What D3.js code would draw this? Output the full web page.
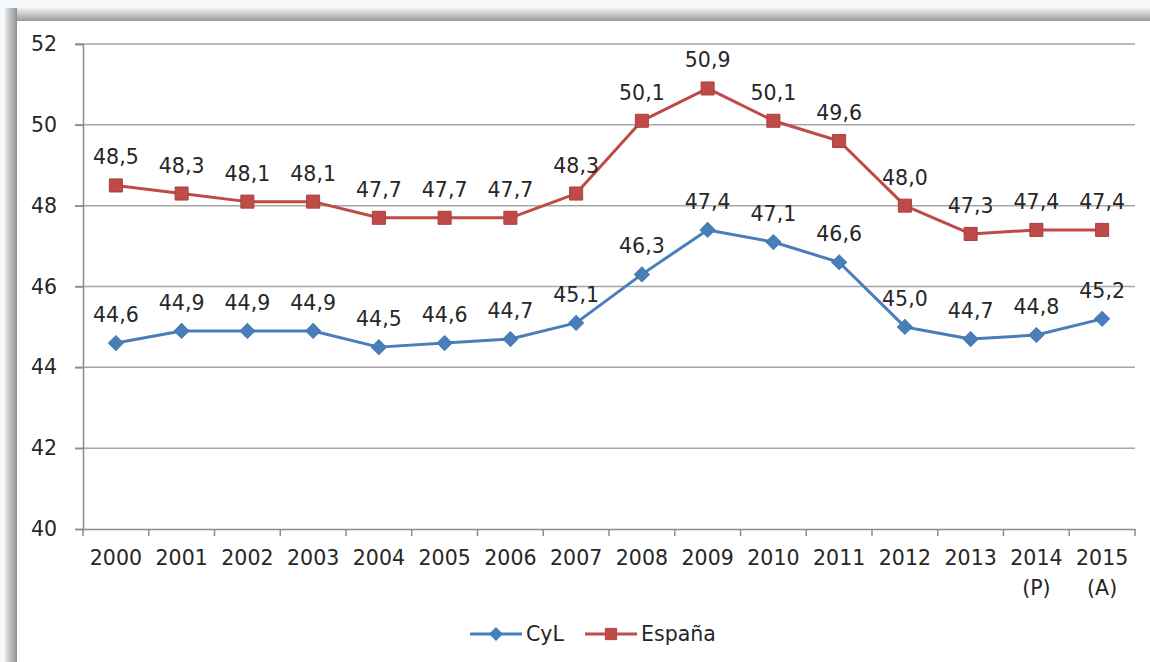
<!DOCTYPE html>
<html><head><meta charset="utf-8">
<script src="https://cdn.jsdelivr.net/npm/d3@7"></script>
<style>
html,body{margin:0;padding:0;background:#f6f9fb;}
svg{display:block;}
text{font-family:"DejaVu Sans",sans-serif;fill:#262626;}
</style></head>
<body>
<svg id="chart" width="1150" height="662"></svg>
<script>
const years = ["2000","2001","2002","2003","2004","2005","2006","2007","2008","2009","2010","2011","2012","2013","2014","2015"];
const yearNotes = ["","","","","","","","","","","","","","","(P)","(A)"];
const cylValues = [44.6,44.9,44.9,44.9,44.5,44.6,44.7,45.1,46.3,47.4,47.1,46.6,45.0,44.7,44.8,45.2];
const espValues = [48.5,48.3,48.1,48.1,47.7,47.7,47.7,48.3,50.1,50.9,50.1,49.6,48.0,47.3,47.4,47.4];
const yTicks = [40,42,44,46,48,50,52];
const seriesNames = ["CyL","España"];

const FS = 20.5;
const svg = d3.select("#chart");
const W = 1150, H = 662;

// frame / shadow
const defs = svg.append("defs");
const gTop = defs.append("linearGradient").attr("id","gTop").attr("x1",0).attr("y1",0).attr("x2",0).attr("y2",1);
gTop.append("stop").attr("offset","0%").attr("stop-color","#f2f2f2");
gTop.append("stop").attr("offset","100%").attr("stop-color","#9a9a9a");
const gLeft = defs.append("linearGradient").attr("id","gLeft").attr("x1",0).attr("y1",0).attr("x2",1).attr("y2",0);
gLeft.append("stop").attr("offset","0%").attr("stop-color","#e6e6e6");
gLeft.append("stop").attr("offset","100%").attr("stop-color","#8f8f8f");

svg.append("rect").attr("x",0).attr("y",0).attr("width",W).attr("height",H).attr("fill","#f6f9fb");
svg.append("rect").attr("x",5).attr("y",8).attr("width",W-5).attr("height",13).attr("fill","url(#gTop)");
svg.append("rect").attr("x",5).attr("y",8).attr("width",12).attr("height",H-8).attr("fill","url(#gLeft)");
svg.append("rect").attr("x",17).attr("y",21).attr("width",W-17).attr("height",H-21).attr("fill","#ffffff");

const x = d3.scaleBand().domain(years).range([83,1135]);
const y = d3.scaleLinear().domain([40,52]).range([529,44]);

// grid
svg.append("g").selectAll("line").data(yTicks.filter(d=>d>40)).join("line")
  .attr("x1",75).attr("x2",1135)
  .attr("y1",d=>y(d)).attr("y2",d=>y(d))
  .attr("stroke","#a6a6a6").attr("stroke-width",1.5);

// y axis
const yAxis = d3.axisLeft(y).tickValues(yTicks).tickSize(8).tickFormat(d3.format("d"));
const yg = svg.append("g").attr("transform","translate(83,0)").call(yAxis);
yg.select(".domain").attr("stroke","#8c8c8c").attr("stroke-width",1.5);
yg.selectAll(".tick line").attr("stroke","#8c8c8c").attr("stroke-width",1.5);
yg.selectAll(".tick text").attr("x",-26).attr("font-size",FS).attr("fill","#262626")
  .style("font-family","'DejaVu Sans',sans-serif");

// x axis
const xAxis = d3.axisBottom(x).tickSize(0).tickFormat(d=>d);
const xg = svg.append("g").attr("transform","translate(0,529)").call(xAxis);
xg.select(".domain").attr("stroke","#8c8c8c").attr("stroke-width",1.5);
xg.selectAll(".tick text").attr("y",36).attr("dy",0).attr("font-size",FS).attr("fill","#262626")
  .style("font-family","'DejaVu Sans',sans-serif");
const bounds = years.map(d=>x(d)).concat([x.range()[1]]);
xg.append("g").selectAll("line").data(bounds).join("line")
  .attr("x1",d=>d).attr("x2",d=>d).attr("y1",0).attr("y2",7)
  .attr("stroke","#8c8c8c").attr("stroke-width",1.5);
xg.append("g").selectAll("text").data(years.filter((d,i)=>yearNotes[i])).join("text")
  .attr("x",d=>x(d)+x.bandwidth()/2).attr("y",66)
  .attr("text-anchor","middle").attr("font-size",FS)
  .text(d=>yearNotes[years.indexOf(d)]);

const cx = d=>x(d)+x.bandwidth()/2;
const line = d3.line().x(d=>cx(d.year)).y(d=>y(d.v));
const cyl = years.map((yr,i)=>({year:yr,v:cylValues[i]}));
const esp = years.map((yr,i)=>({year:yr,v:espValues[i]}));
const blue = "#4a7ebb", red = "#be4b48";
const fmt = v=>d3.format(".1f")(v).replace(".",",");

function marker(shape, big){
  return d3.symbol().type(d3.symbolSquare).size(shape==="square"?(big?170:150):(big?110:95))();
}
function drawSeries(data,color,shape){
  svg.append("path").datum(data).attr("d",line).attr("fill","none")
    .attr("stroke",color).attr("stroke-width",3).attr("stroke-linejoin","round");
  svg.append("g").selectAll("path").data(data).join("path")
    .attr("d",marker(shape,true))
    .attr("transform",d=>`translate(${cx(d.year)},${y(d.v)})`+(shape==="diamond"?" rotate(45)":""))
    .attr("fill",color).attr("stroke",shape==="square"?"#a8403d":"#4477b3").attr("stroke-width",1);
  svg.append("g").selectAll("text").data(data).join("text")
    .attr("x",d=>cx(d.year)).attr("y",d=>y(d.v)-21)
    .attr("text-anchor","middle").attr("font-size",FS)
    .text(d=>fmt(d.v));
}
drawSeries(esp,red,"square");
drawSeries(cyl,blue,"diamond");

// legend
const leg = svg.append("g");
const legItems = [{name:seriesNames[0],color:blue,shape:"diamond",x:470},{name:seriesNames[1],color:red,shape:"square",x:585}];
legItems.forEach(it=>{
  leg.append("line").attr("x1",it.x).attr("x2",it.x+52).attr("y1",634).attr("y2",634)
    .attr("stroke",it.color).attr("stroke-width",3);
  leg.append("path").attr("d",marker(it.shape,false))
    .attr("transform",`translate(${it.x+26},634)`+(it.shape==="diamond"?" rotate(45)":"")).attr("fill",it.color);
  leg.append("text").attr("x",it.x+56).attr("y",641).attr("font-size",FS).text(it.name);
});
</script>
</body></html>
